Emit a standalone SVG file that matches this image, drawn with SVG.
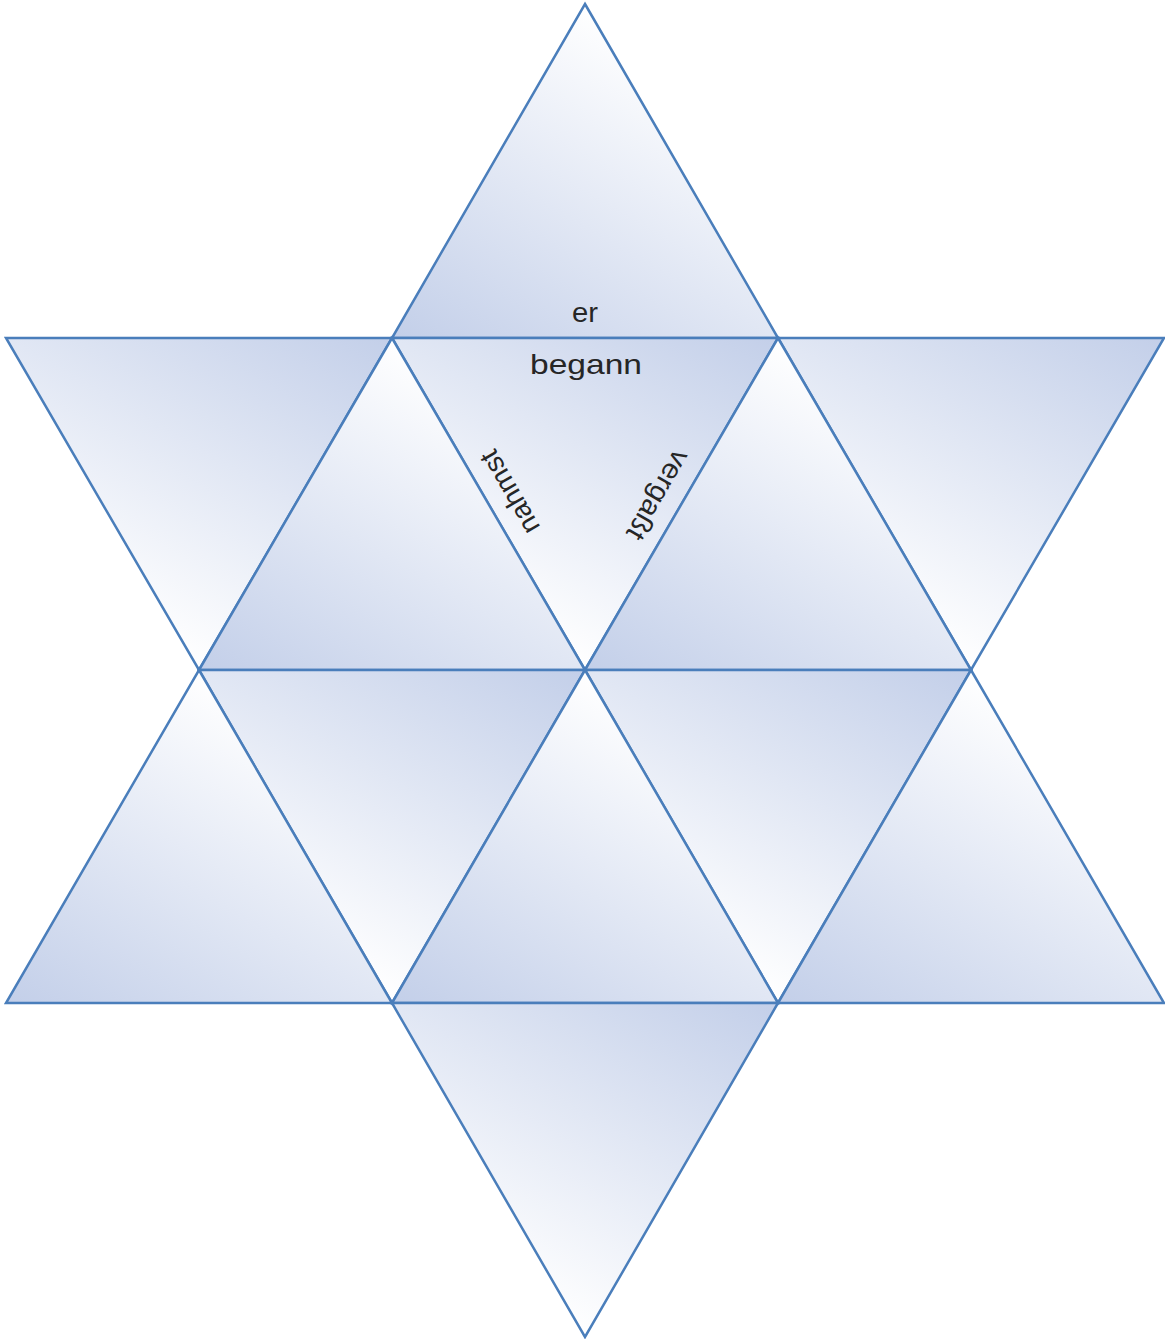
<svg xmlns="http://www.w3.org/2000/svg" width="1165" height="1339" viewBox="0 0 1165 1339">
  <style>
    .tri { stroke: #4a7ebb; stroke-width: 2.5; stroke-linejoin: miter; }
    .up { fill: url(#gUp); }
    .down { fill: url(#gDown); }
    .lbl { font-family: "Liberation Sans", "DejaVu Sans", sans-serif; font-size: 28px; fill: #262626; text-anchor: middle; }
  </style>
  <defs>
    <linearGradient id="gUp" x1="0" y1="1" x2="0.615" y2="0.077">
      <stop offset="0" stop-color="#c3cfe9"/>
      <stop offset="1" stop-color="#ffffff"/>
    </linearGradient>
    <linearGradient id="gDown" x1="1" y1="0" x2="0.385" y2="0.923">
      <stop offset="0" stop-color="#c3cfe9"/>
      <stop offset="1" stop-color="#ffffff"/>
    </linearGradient>
  </defs>
  <rect width="1165" height="1339" fill="#ffffff"/>
  <g id="t-top"><polygon class="tri up" points="585,4 778,338 392,338"/></g>
  <g id="t-upper-left"><polygon class="tri down" points="6,338 392,338 199,670"/></g>
  <g id="t-upper-right"><polygon class="tri down" points="778,338 1164,338 971,670"/></g>
  <g id="t-inner-top"><polygon class="tri down" points="392,338 778,338 585,670"/></g>
  <g id="t-inner-upper-left"><polygon class="tri up" points="392,338 585,670 199,670"/></g>
  <g id="t-inner-upper-right"><polygon class="tri up" points="778,338 971,670 585,670"/></g>
  <g id="t-inner-lower-left"><polygon class="tri down" points="199,670 585,670 392,1003"/></g>
  <g id="t-inner-lower-right"><polygon class="tri down" points="585,670 971,670 778,1003"/></g>
  <g id="t-inner-bottom"><polygon class="tri up" points="585,670 778,1003 392,1003"/></g>
  <g id="t-lower-left"><polygon class="tri up" points="199,670 392,1003 6,1003"/></g>
  <g id="t-lower-right"><polygon class="tri up" points="971,670 1164,1003 778,1003"/></g>
  <g id="t-bottom"><polygon class="tri down" points="392,1003 778,1003 585,1337"/></g>
  <g id="labels">
    <text class="lbl" x="585" y="322" textLength="26" lengthAdjust="spacingAndGlyphs">er</text>
    <text class="lbl" x="586" y="374" textLength="112" lengthAdjust="spacingAndGlyphs">begann</text>
    <text class="lbl" transform="translate(510,492) rotate(240)" x="0" y="9" textLength="92" lengthAdjust="spacingAndGlyphs">nahmst</text>
    <text class="lbl" transform="translate(658,495) rotate(120)" x="0" y="9" textLength="99" lengthAdjust="spacingAndGlyphs">vergaßt</text>
  </g>
</svg>
